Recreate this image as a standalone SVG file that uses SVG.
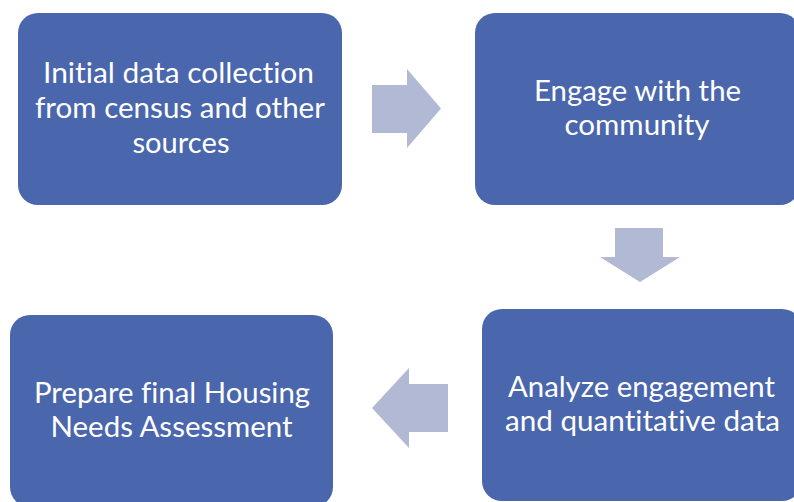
<svg xmlns="http://www.w3.org/2000/svg" width="794" height="502" viewBox="0 0 794 502">
  <style>
    .box { fill: #4A66AC; }
    .arrow { fill: #B1B9D5; }
    .label { font-family: Lato, "Open Sans", "Liberation Sans", sans-serif; font-size: 28px; fill: #FFFFFF; text-anchor: middle; font-variant-ligatures: none; font-feature-settings: "liga" 0, "dlig" 0; }
  </style>
  <rect width="794" height="502" fill="#FFFFFF"/>
  <g id="connectors">
    <polygon class="arrow" points="372,85 407,85 407,69 441,108.5 407,148 407,133 372,133"/>
    <polygon class="arrow" points="615,228 663,228 663,257 680,257 640,282 600,257 615,257"/>
    <polygon class="arrow" points="448,384 409,384 409,368 372,408 409,448 409,432 448,432"/>
  </g>
  <g id="node-initial-data">
    <rect class="box" x="18" y="13" width="324" height="192" rx="20" ry="20"/>
    <text class="label" x="178.5" y="83" textLength="271" lengthAdjust="spacingAndGlyphs">Initial data collection</text>
    <text class="label" x="180" y="118" textLength="290" lengthAdjust="spacingAndGlyphs">from census and other</text>
    <text class="label" x="181" y="153" textLength="97" lengthAdjust="spacingAndGlyphs">sources</text>
  </g>
  <g id="node-engage">
    <rect class="box" x="475" y="13" width="325" height="192" rx="20" ry="20"/>
    <text class="label" x="637.5" y="101" textLength="207" lengthAdjust="spacingAndGlyphs">Engage with the</text>
    <text class="label" x="637" y="135" textLength="145" lengthAdjust="spacingAndGlyphs">community</text>
  </g>
  <g id="node-analyze">
    <rect class="box" x="482" y="309" width="320" height="192" rx="20" ry="20"/>
    <text class="label" x="641.5" y="397" textLength="267" lengthAdjust="spacingAndGlyphs">Analyze engagement</text>
    <text class="label" x="642.5" y="431" textLength="275" lengthAdjust="spacingAndGlyphs">and quantitative data</text>
  </g>
  <g id="node-prepare">
    <rect class="box" x="10" y="315" width="323" height="192" rx="20" ry="20"/>
    <text class="label" x="172" y="403" textLength="276" lengthAdjust="spacingAndGlyphs">Prepare final Housing</text>
    <text class="label" x="171.5" y="437" textLength="242" lengthAdjust="spacingAndGlyphs">Needs Assessment</text>
  </g>
</svg>
